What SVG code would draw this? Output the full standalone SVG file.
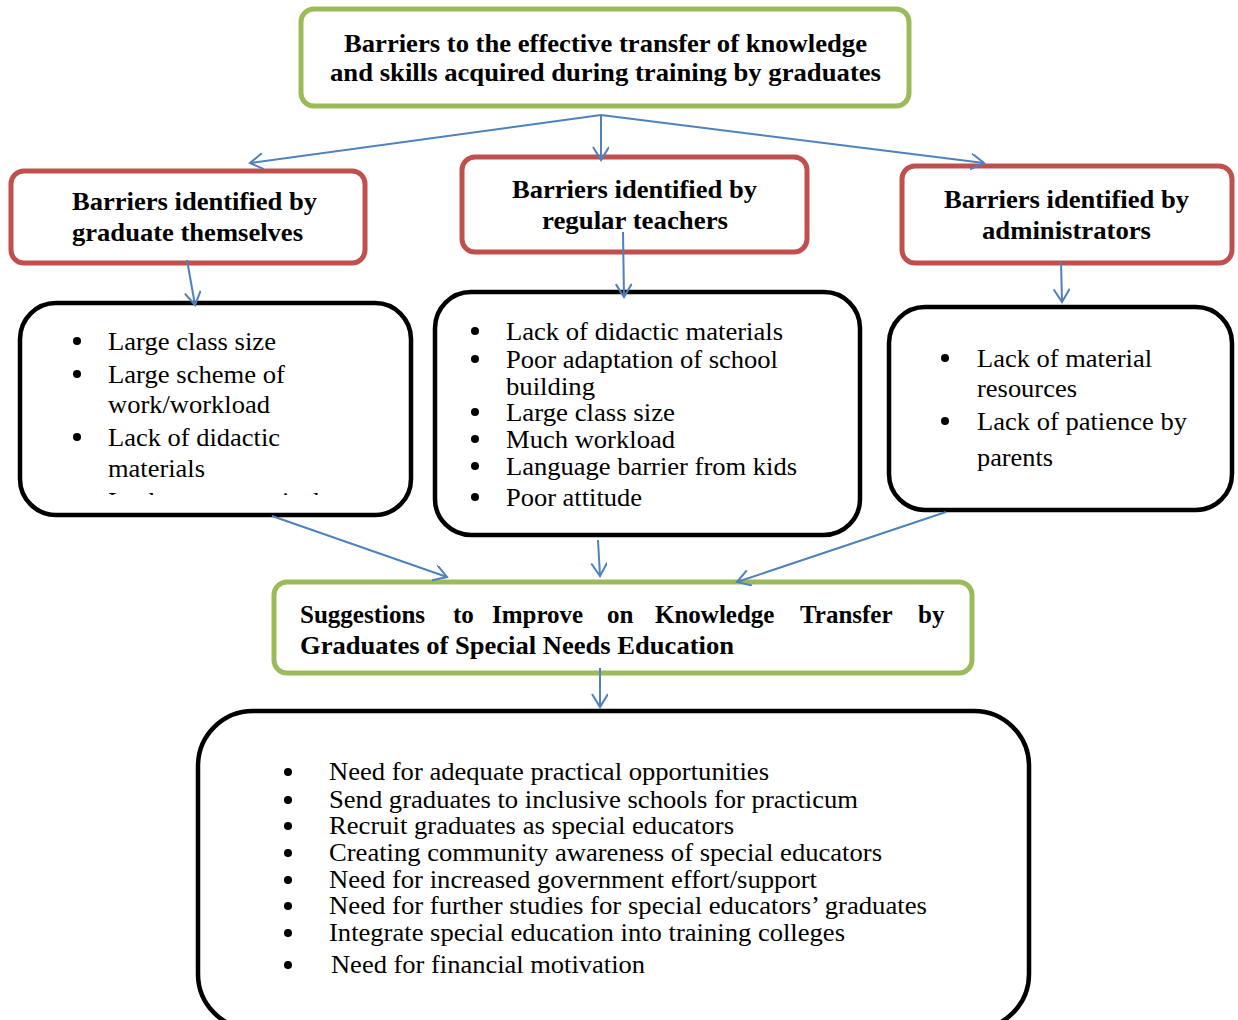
<svg xmlns="http://www.w3.org/2000/svg" width="1238" height="1020" viewBox="0 0 1238 1020">
<style>
.green{fill:#fff;stroke:#9BBB59;stroke-width:5}
.red{fill:#fff;stroke:#C0504D;stroke-width:5}
.blk{fill:#fff;stroke:#000;stroke-width:4.5}
.hd{font-family:'Liberation Serif','Times New Roman',Times,serif;font-weight:bold;font-size:25px;fill:#000}
.tx{font-family:'Liberation Serif','Times New Roman',Times,serif;font-size:25px;fill:#000}
.bl{fill:#000}
.con{stroke:#4F81BD;stroke-width:2;fill:none;marker-end:url(#ah)}
</style>
<defs>
<marker id="ah" markerUnits="userSpaceOnUse" markerWidth="20" markerHeight="20" refX="14" refY="8" orient="auto">
<polyline points="1,0 14,8 1,16" fill="none" stroke="#4F81BD" stroke-width="2"/>
</marker>
<clipPath id="clipL"><rect x="20" y="300" width="392" height="195"/></clipPath>
</defs>
<rect width="1238" height="1020" fill="#fff"/>

<g id="top">
<rect class="green" x="301" y="9" width="608" height="97" rx="13"/>
<text class="hd" x="344" y="52" textLength="523" lengthAdjust="spacingAndGlyphs">Barriers to the effective transfer of knowledge</text>
<text class="hd" x="330" y="81" textLength="551" lengthAdjust="spacingAndGlyphs">and skills acquired during training by graduates</text>
</g>

<g id="graduates">
<rect class="red" x="11" y="171" width="354" height="92" rx="13"/>
<text class="hd" x="72" y="210" textLength="245" lengthAdjust="spacingAndGlyphs">Barriers identified by</text>
<text class="hd" x="72" y="241" textLength="231" lengthAdjust="spacingAndGlyphs">graduate themselves</text>
</g>

<g id="teachers">
<rect class="red" x="462" y="157" width="345" height="95" rx="13"/>
<text class="hd" x="512" y="198" textLength="245" lengthAdjust="spacingAndGlyphs">Barriers identified by</text>
<text class="hd" x="542" y="229" textLength="186" lengthAdjust="spacingAndGlyphs">regular teachers</text>
</g>

<g id="administrators">
<rect class="red" x="902" y="166" width="330" height="97" rx="13"/>
<text class="hd" x="944" y="208" textLength="245" lengthAdjust="spacingAndGlyphs">Barriers identified by</text>
<text class="hd" x="982" y="239" textLength="169" lengthAdjust="spacingAndGlyphs">administrators</text>
</g>

<g id="list-graduates">
<rect class="blk" x="20" y="303" width="391" height="212" rx="36"/>
<circle class="bl" cx="77" cy="341" r="4"/>
<circle class="bl" cx="77" cy="374" r="4"/>
<circle class="bl" cx="77" cy="437" r="4"/>
<text class="tx" x="108" y="350" textLength="168" lengthAdjust="spacingAndGlyphs">Large class size</text>
<text class="tx" x="108" y="383" textLength="177" lengthAdjust="spacingAndGlyphs">Large scheme of</text>
<text class="tx" x="108" y="413" textLength="162" lengthAdjust="spacingAndGlyphs">work/workload</text>
<text class="tx" x="108" y="446" textLength="172" lengthAdjust="spacingAndGlyphs">Lack of didactic</text>
<text class="tx" x="108" y="477" textLength="97" lengthAdjust="spacingAndGlyphs">materials</text>
<text class="tx" x="108" y="510" textLength="212" lengthAdjust="spacingAndGlyphs" clip-path="url(#clipL)">Inadequate practical</text>
</g>

<g id="list-teachers">
<rect class="blk" x="435" y="292" width="425" height="243" rx="36"/>
<circle class="bl" cx="475" cy="331" r="4"/>
<circle class="bl" cx="475" cy="359" r="4"/>
<circle class="bl" cx="475" cy="412" r="4"/>
<circle class="bl" cx="475" cy="439" r="4"/>
<circle class="bl" cx="475" cy="466" r="4"/>
<circle class="bl" cx="475" cy="497" r="4"/>
<text class="tx" x="506" y="340" textLength="277" lengthAdjust="spacingAndGlyphs">Lack of didactic materials</text>
<text class="tx" x="506" y="368" textLength="272" lengthAdjust="spacingAndGlyphs">Poor adaptation of school</text>
<text class="tx" x="506" y="395" textLength="89" lengthAdjust="spacingAndGlyphs">building</text>
<text class="tx" x="506" y="421" textLength="169" lengthAdjust="spacingAndGlyphs">Large class size</text>
<text class="tx" x="506" y="448" textLength="169" lengthAdjust="spacingAndGlyphs">Much workload</text>
<text class="tx" x="506" y="475" textLength="291" lengthAdjust="spacingAndGlyphs">Language barrier from kids</text>
<text class="tx" x="506" y="506" textLength="136" lengthAdjust="spacingAndGlyphs">Poor attitude</text>
</g>

<g id="list-administrators">
<rect class="blk" x="889" y="307" width="343" height="203" rx="36"/>
<circle class="bl" cx="945" cy="358" r="4"/>
<circle class="bl" cx="945" cy="421" r="4"/>
<text class="tx" x="977" y="367" textLength="175" lengthAdjust="spacingAndGlyphs">Lack of material</text>
<text class="tx" x="977" y="397" textLength="100" lengthAdjust="spacingAndGlyphs">resources</text>
<text class="tx" x="977" y="430" textLength="210" lengthAdjust="spacingAndGlyphs">Lack of patience by</text>
<text class="tx" x="977" y="466" textLength="76" lengthAdjust="spacingAndGlyphs">parents</text>
</g>

<g id="suggestions">
<rect class="green" x="274" y="582" width="698" height="91" rx="13"/>
<text class="hd" y="623">
<tspan x="300">Suggestions</tspan><tspan x="453">to</tspan><tspan x="492">Improve</tspan><tspan x="607">on</tspan><tspan x="655">Knowledge</tspan><tspan x="800">Transfer</tspan><tspan x="918">by</tspan>
</text>
<text class="hd" x="300" y="654" textLength="434" lengthAdjust="spacingAndGlyphs">Graduates of Special Needs Education</text>
</g>

<g id="list-suggestions">
<rect class="blk" x="198" y="711" width="831" height="318" rx="55"/>
<circle class="bl" cx="288" cy="772" r="4"/>
<circle class="bl" cx="288" cy="800" r="4"/>
<circle class="bl" cx="288" cy="826" r="4"/>
<circle class="bl" cx="288" cy="853" r="4"/>
<circle class="bl" cx="288" cy="880" r="4"/>
<circle class="bl" cx="288" cy="906" r="4"/>
<circle class="bl" cx="288" cy="933" r="4"/>
<circle class="bl" cx="288" cy="965" r="4"/>
<text class="tx" x="329" y="780" textLength="440" lengthAdjust="spacingAndGlyphs">Need for adequate practical opportunities</text>
<text class="tx" x="329" y="808" textLength="529" lengthAdjust="spacingAndGlyphs">Send graduates to inclusive schools for practicum</text>
<text class="tx" x="329" y="834" textLength="405" lengthAdjust="spacingAndGlyphs">Recruit graduates as special educators</text>
<text class="tx" x="329" y="861" textLength="553" lengthAdjust="spacingAndGlyphs">Creating community awareness of special educators</text>
<text class="tx" x="329" y="888" textLength="488" lengthAdjust="spacingAndGlyphs">Need for increased government effort/support</text>
<text class="tx" x="329" y="914" textLength="598" lengthAdjust="spacingAndGlyphs">Need for further studies for special educators’ graduates</text>
<text class="tx" x="329" y="941" textLength="516" lengthAdjust="spacingAndGlyphs">Integrate special education into training colleges</text>
<text class="tx" x="331" y="973" textLength="314" lengthAdjust="spacingAndGlyphs">Need for financial motivation</text>
</g>

<g id="connectors">
<line class="con" x1="601" y1="115" x2="250" y2="163"/>
<line class="con" x1="601" y1="115" x2="601" y2="160"/>
<line class="con" x1="601" y1="115" x2="984" y2="163"/>
<line class="con" x1="187" y1="260" x2="195" y2="305"/>
<line class="con" x1="623" y1="232" x2="624" y2="297"/>
<line class="con" x1="1061" y1="262" x2="1062" y2="302"/>
<line class="con" x1="272" y1="516" x2="447" y2="577"/>
<line class="con" x1="598" y1="540" x2="600" y2="576"/>
<line class="con" x1="946" y1="512" x2="737" y2="582"/>
<line class="con" x1="600" y1="668" x2="600" y2="707"/>
</g>
</svg>
